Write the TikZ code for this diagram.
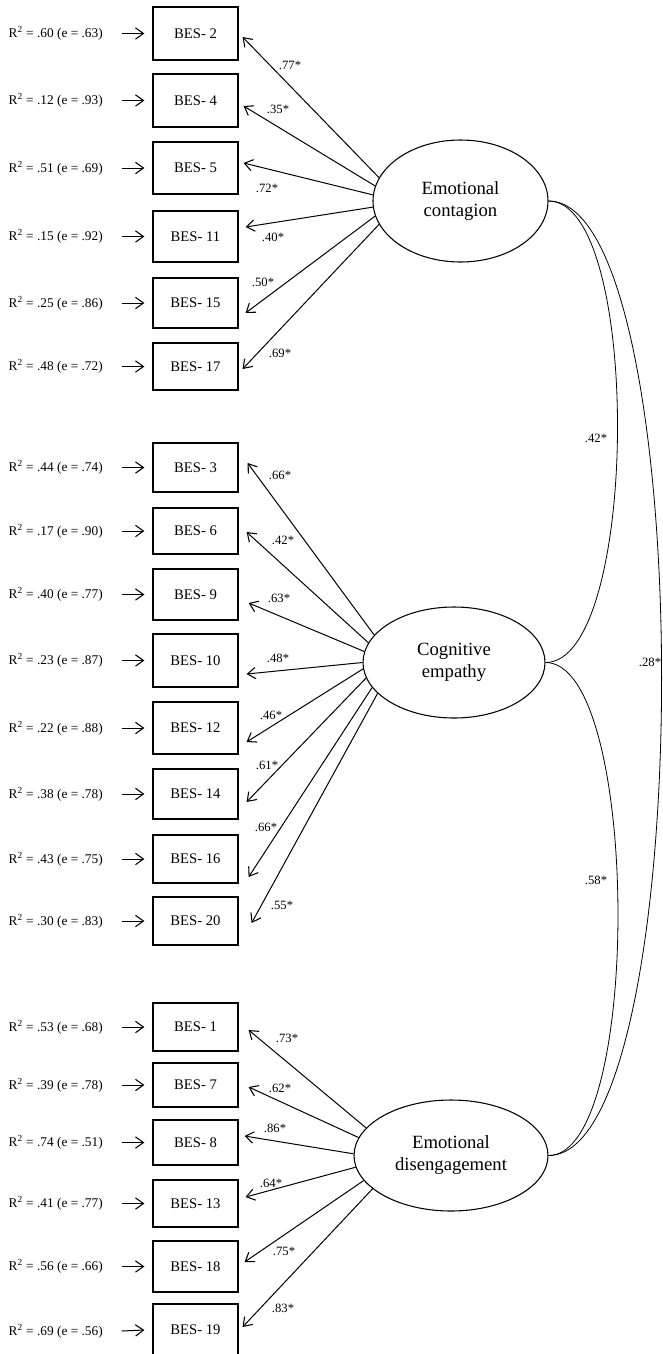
\documentclass[tikz,border=0pt]{standalone}
\usepackage{fontspec}
\setmainfont{Liberation Serif}
\usetikzlibrary{arrows.meta,calc,shapes.geometric}
\tikzset{
  box/.style={draw, line width=0.9pt, minimum width=85*0.75pt, inner sep=0pt, font=\fontsize{11}{13}\selectfont},
  fac/.style={draw, ellipse, line width=0.8pt, inner sep=0pt, align=center, font=\fontsize{14}{16.5}\selectfont},
  rsq/.style={inner sep=0pt, anchor=east, font=\fontsize{10}{12}\selectfont},
  ld/.style={inner sep=0pt, font=\fontsize{9.5}{11}\selectfont},
  arr/.style={line width=0.75pt, -{Straight Barb[length=6pt,width=8.5pt,line width=0.8pt]}},
  cov/.style={line width=0.6pt},
}
\newcommand\itembox[4]{\node[box, minimum height=#3*0.75pt] (#1) at (195.5,#2) {BES- #4};}
\newcommand\rsqlab[3]{\node[rsq] (r#1) at (103,#2) {R\textsuperscript{2} = #3};
  \draw[arr] ([xshift=14pt]r#1.east) -- ([xshift=-6pt]#1.west);}
\begin{document}
\begin{tikzpicture}[x=0.75pt,y=-0.75pt]
\useasboundingbox (0,0) rectangle (662,1354);
\clip (0,0) rectangle (662,1354);

% factors
\node[fac, minimum width=175*0.75pt, minimum height=122*0.75pt] (ec) at (460.5,201) {Emotional\\contagion};
\node[fac, minimum width=182*0.75pt, minimum height=111*0.75pt] (ce) at (454,662.5) {Cognitive\\empathy};
\node[fac, minimum width=194*0.75pt, minimum height=111*0.75pt] (ed) at (451,1155.5) {Emotional\\disengagement};

% items: emotional contagion
\itembox{b2}{33.5}{53}{2}
\itembox{b4}{100.5}{53}{4}
\itembox{b5}{168}{52}{5}
\itembox{b11}{236.5}{51}{11}
\itembox{b15}{303}{50}{15}
\itembox{b17}{366.5}{47}{17}
% items: cognitive empathy
\itembox{b3}{467.5}{49}{3}
\itembox{b6}{531}{46}{6}
\itembox{b9}{594.5}{51}{9}
\itembox{b10}{660.5}{53}{10}
\itembox{b12}{728}{52}{12}
\itembox{b14}{794}{50}{14}
\itembox{b16}{859}{48}{16}
\itembox{b20}{921}{48}{20}
% items: emotional disengagement
\itembox{b1}{1027}{48}{1}
\itembox{b7}{1085}{44}{7}
\itembox{b8}{1142.5}{45}{8}
\itembox{b13}{1203.5}{47}{13}
\itembox{b18}{1266.5}{51}{18}
\itembox{b19}{1330}{52}{19}

% R2 labels
\rsqlab{b2}{33.5}{.60 (e = .63)}
\rsqlab{b4}{100.5}{.12 (e = .93)}
\rsqlab{b5}{168}{.51 (e = .69)}
\rsqlab{b11}{236.5}{.15 (e = .92)}
\rsqlab{b15}{303}{.25 (e = .86)}
\rsqlab{b17}{366.5}{.48 (e = .72)}
\rsqlab{b3}{467.5}{.44 (e = .74)}
\rsqlab{b6}{531}{.17 (e = .90)}
\rsqlab{b9}{594.5}{.40 (e = .77)}
\rsqlab{b10}{660.5}{.23 (e = .87)}
\rsqlab{b12}{728}{.22 (e = .88)}
\rsqlab{b14}{794}{.38 (e = .78)}
\rsqlab{b16}{859}{.43 (e = .75)}
\rsqlab{b20}{921}{.30 (e = .83)}
\rsqlab{b1}{1027}{.53 (e = .68)}
\rsqlab{b7}{1085}{.39 (e = .78)}
\rsqlab{b8}{1142.5}{.74 (e = .51)}
\rsqlab{b13}{1203.5}{.41 (e = .77)}
\rsqlab{b18}{1266.5}{.56 (e = .66)}
\rsqlab{b19}{1331}{.69 (e = .56)}

% loadings: emotional contagion
\draw[arr] (ec.164.4) -- ($(b2.east)+(4,3.5)$);
\draw[arr] (ec.170.8) -- ($(b4.east)+(5,5.5)$);
\draw[arr] (ec.176.7) -- ($(b5.east)+(5,-5)$);
\draw[arr] (ec.184) -- ($(b11.east)+(7,-9.5)$);
\draw[arr] (ec.190) -- ($(b15.east)+(7,10)$);
\draw[arr] (ec.196.2) -- ($(b17.east)+(4,2.5)$);
% loadings: cognitive empathy
\draw[arr] (ce.161.3) -- ($(b3.east)+(9,-4.5)$);
\draw[arr] (ce.167.2) -- ($(b6.east)+(8,1)$);
\draw[arr] (ce.173.9) -- ($(b9.east)+(10,8.5)$);
\draw[arr] (ce.180.3) -- ($(b10.east)+(8,13.5)$);
\draw[arr] (ce.184.8) -- ($(b12.east)+(8,14)$);
\draw[arr] (ce.190.1) -- ($(b14.east)+(8,8)$);
\draw[arr] (ce.197.3) -- ($(b16.east)+(10,18)$);
\draw[arr] (ce.202.9) -- ($(b20.east)+(13,2)$);
% loadings: emotional disengagement
\draw[arr] (ed.162.3) -- ($(b1.east)+(10,3)$);
\draw[arr] (ed.169.9) -- ($(b7.east)+(10,2)$);
\draw[arr] (ed.179.7) -- ($(b8.east)+(6,-6.5)$);
\draw[arr] (ed.187.5) -- ($(b13.east)+(7,-6.5)$);
\draw[arr] (ed.196.8) -- ($(b18.east)+(6,-4.5)$);
\draw[arr] (ed.203.5) -- ($(b19.east)+(4,-3)$);

% loading labels
\node[ld] (l2) at (290,65) {.77*};
\node[ld] (l4) at (278,109) {.35*};
\node[ld] (l5) at (267,188) {.72*};
\node[ld] (l11) at (273,237) {.40*};
\node[ld] (l15) at (263,282) {.50*};
\node[ld] (l17) at (280,353) {.69*};
\node[ld] (l3) at (280,475) {.66*};
\node[ld] (l6) at (283,540) {.42*};
\node[ld] (l9) at (279,598) {.63*};
\node[ld] (l10) at (278,658) {.48*};
\node[ld] (l12) at (271,715) {.46*};
\node[ld] (l14) at (267,765) {.61*};
\node[ld] (l16) at (266,827) {.66*};
\node[ld] (l20) at (282,905) {.55*};
\node[ld] (l1) at (287,1038) {.73*};
\node[ld] (l7) at (280,1088) {.62*};
\node[ld] (l8) at (275,1128) {.86*};
\node[ld] (l13) at (271,1183) {.64*};
\node[ld] (l18) at (284,1251) {.75*};
\node[ld] (l19) at (283,1308) {.83*};

% covariances
\draw[cov] (ec.east) to[out=0,in=0,looseness=0.52] (ce.east);
\draw[cov] (ce.east) to[out=0,in=0,looseness=0.49] (ed.east);
\draw[cov] (ec.east) to[out=0,in=0,looseness=0.405] (ed.east);
\node[ld] (c1) at (596,438) {.42*};
\node[ld] (c2) at (650,662) {.28*};
\node[ld] (c3) at (596,880) {.58*};
\end{tikzpicture}
\end{document}
